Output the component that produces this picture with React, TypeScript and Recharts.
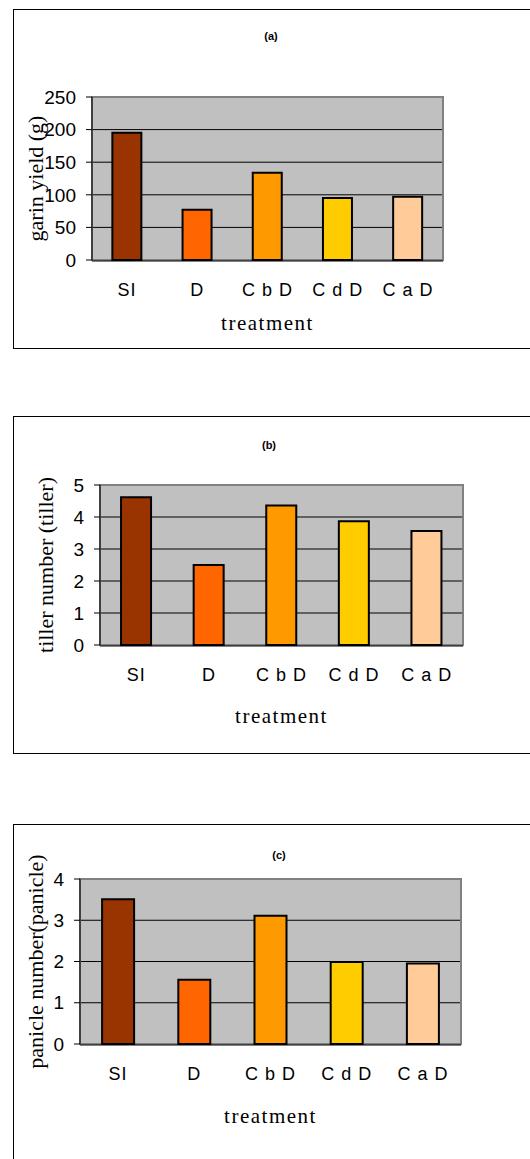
import React from 'react'
import {
  BarChart,
  Bar,
  XAxis,
  YAxis,
  CartesianGrid,
  Cell,
  Label,
  ReferenceArea,
} from 'recharts'

const treatments = ['SI', 'D', 'C b D', 'C d D', 'C a D']
const barColors = ['#993300', '#ff6600', '#ff9900', '#ffcc00', '#ffcc99']

const grainYield = [195, 77, 134, 95, 97]
const tillerNumber = [4.62, 2.5, 4.36, 3.87, 3.56]
const panicleNumber = [3.51, 1.56, 3.11, 1.99, 1.95]

const yieldTicks = [0, 50, 100, 150, 200, 250]
const tillerTicks = [0, 1, 2, 3, 4, 5]
const panicleTicks = [0, 1, 2, 3, 4]
const edgeTicks = [0, 1, 2, 3, 4, 5]

const W = 530
const Y_AXIS_W = 60
const SANS = '"Liberation Sans", Arial, sans-serif'
const SERIF = '"Liberation Serif", "Times New Roman", serif'

type PanelProps = {
  title: string
  yLabel: string
  values: number[]
  ticks: number[]
  top: number
  height: number
  boxTop: number
  boxHeight: number
  plot: { l: number; r: number; t: number; b: number }
  yLabelX: number
  titleX: number
  titleY: number
  xLabelGap: number
}

function Panel(p: PanelProps) {
  const data = treatments.map((name, i) => ({ name, value: p.values[i] }))
  const maxTick = p.ticks[p.ticks.length - 1]
  const margin = {
    top: p.plot.t - p.top,
    left: p.plot.l - Y_AXIS_W,
    right: W - p.plot.r,
    bottom: p.top + p.height - p.plot.b - 2,
  }
  return (
    <>
      <div
        style={{
          position: 'absolute',
          left: 13,
          top: p.boxTop,
          width: 600,
          height: p.boxHeight,
          border: '1.5px solid #000',
          boxSizing: 'border-box',
        }}
      />
      <div
        style={{
          position: 'absolute',
          left: p.titleX,
          top: p.titleY,
          transform: 'translate(-50%, -50%)',
          fontFamily: SANS,
          fontWeight: 'bold',
          fontSize: 11,
        }}
      >
        {p.title}
      </div>
      <div style={{ position: 'absolute', left: 0, top: p.top }}>
        <BarChart width={W} height={p.height} data={data} margin={margin} barCategoryGap="29%">
          <CartesianGrid xAxisId="cat" vertical={false} stroke="#000" fill="#c0c0c0" fillOpacity={1} />
          <ReferenceArea
            xAxisId="cat"
            y1={0}
            y2={maxTick}
            fill="none"
            stroke="#808080"
            strokeWidth={2}
          />
          <XAxis
            xAxisId="cat"
            dataKey="name"
            height={1}
            tickLine={false}
            axisLine={false}
            tickSize={0}
            tickMargin={23}
            interval={0}
            tick={{ fill: '#000', fontSize: 18, fontFamily: SANS, letterSpacing: 1 }}
          >
            <Label
              value="treatment"
              position="bottom"
              offset={p.xLabelGap}
              style={{ fill: '#000', fontSize: 21, fontFamily: SERIF, letterSpacing: 1.5 }}
            />
          </XAxis>
          <XAxis
            xAxisId="edge"
            type="number"
            domain={[0, 5]}
            ticks={edgeTicks}
            allowDataOverflow
            height={1}
            tick={false}
            tickSize={6}
            axisLine={{ stroke: '#000' }}
            tickLine={{ stroke: '#000' }}
          />
          <YAxis
            width={Y_AXIS_W}
            domain={[0, maxTick]}
            ticks={p.ticks}
            interval={0}
            tickSize={6}
            tickMargin={10}
            axisLine={{ stroke: '#000' }}
            tickLine={{ stroke: '#000' }}
            tick={{ fill: '#000', fontSize: 19, fontFamily: SANS }}
          >
            <Label
              value={p.yLabel}
              angle={-90}
              position="insideLeft"
              offset={p.yLabelX - (p.plot.l - Y_AXIS_W)}
              style={{ textAnchor: 'middle', fill: '#000', fontSize: 22, fontFamily: SERIF }}
            />
          </YAxis>
          <Bar dataKey="value" xAxisId="cat" stroke="#000" strokeWidth={2} isAnimationActive={false}>
            {data.map((d, i) => (
              <Cell key={d.name} fill={barColors[i]} />
            ))}
          </Bar>
        </BarChart>
      </div>
    </>
  )
}

export default function App() {
  return (
    <div
      style={{
        position: 'fixed',
        left: 0,
        top: 0,
        width: W,
        height: 1159,
        overflow: 'hidden',
        background: '#fff',
      }}
    >
      <Panel
        title="(a)"
        yLabel="garin yield (g)"
        values={grainYield}
        ticks={yieldTicks}
        top={0}
        height={350}
        boxTop={9}
        boxHeight={340}
        plot={{ l: 92, r: 443, t: 97, b: 260 }}
        yLabelX={35}
        titleX={271}
        titleY={36}
        xLabelGap={54}
      />
      <Panel
        title="(b)"
        yLabel="tiller number (tiller)"
        values={tillerNumber}
        ticks={tillerTicks}
        top={400}
        height={360}
        boxTop={416}
        boxHeight={338}
        plot={{ l: 100, r: 463, t: 485, b: 645 }}
        yLabelX={45}
        titleX={269}
        titleY={445}
        xLabelGap={62}
      />
      <Panel
        title="(c)"
        yLabel="panicle number(panicle)"
        values={panicleNumber}
        ticks={panicleTicks}
        top={800}
        height={359}
        boxTop={824}
        boxHeight={400}
        plot={{ l: 80, r: 461, t: 879, b: 1044 }}
        yLabelX={35}
        titleX={279}
        titleY={855}
        xLabelGap={63}
      />
    </div>
  )
}
